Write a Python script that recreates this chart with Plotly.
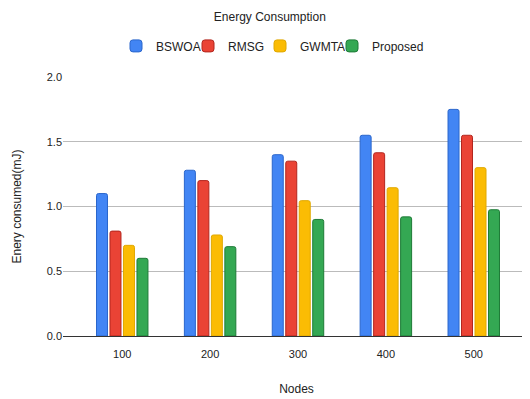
import plotly.graph_objects as go

categories = ["100", "200", "300", "400", "500"]
bswoa = [1.10, 1.28, 1.40, 1.55, 1.75]
rmsg = [0.81, 1.20, 1.35, 1.415, 1.55]
gwmta = [0.70, 0.78, 1.045, 1.145, 1.30]
proposed = [0.60, 0.69, 0.90, 0.92, 0.975]

series = [
    ("BSWOA", bswoa, "#4285F4", "#2A66CC"),
    ("RMSG", rmsg, "#EA4335", "#B3261E"),
    ("GWMTA", gwmta, "#FBBC04", "#E0A800"),
    ("Proposed", proposed, "#34A853", "#1E7B37"),
]

fig = go.Figure()
for name, vals, col, edge in series:
    fig.add_trace(go.Bar(
        name=name, x=categories, y=vals,
        marker=dict(color=col, line=dict(color=edge, width=1)),
    ))
# spacer legend entry so the last real label is not clipped
fig.add_trace(go.Scatter(x=[None], y=[None], name=" ", mode="markers",
                         marker=dict(color="rgba(0,0,0,0)"), hoverinfo="skip"))

font = "Liberation Sans, Arial, sans-serif"
fig.update_layout(
    width=530, height=399,
    margin=dict(l=55, r=8, t=69, b=71, autoexpand=False),
    paper_bgcolor="white", plot_bgcolor="white",
    barmode="group", bargap=0.386, bargroupgap=0.185,
    barcornerradius=2,
    font=dict(family=font, size=11, color="#222"),
    title=dict(text="Energy Consumption", x=0.494, xref="container",
               y=0.977, yref="container", xanchor="center", yanchor="middle",
               font=dict(size=12, color="#222")),
    legend=dict(orientation="h", xref="container", x=0.2038, xanchor="left",
                yref="container", y=0.905, yanchor="middle",
                font=dict(size=12, color="#222"), itemwidth=30,
                entrywidth=27, entrywidthmode="pixels",
                traceorder="normal"),
    showlegend=True,
)
fig.update_xaxes(
    type="category", range=[-0.674, 4.64], automargin=False,
    showgrid=False, ticks="outside", ticklen=8, tickcolor="rgba(0,0,0,0)",
    showline=False,
    tickfont=dict(size=11, color="#222"),
    title=dict(text="Nodes", font=dict(size=12, color="#222"), standoff=25),
)
fig.update_yaxes(
    range=[0, 2.0], dtick=0.5, tickformat=".1f", automargin=False,
    showgrid=True, gridcolor="#BBBBBB", gridwidth=1,
    zeroline=True, zerolinecolor="#333333", zerolinewidth=1,
    tickfont=dict(size=11, color="#222"), ticks="",
    title=dict(text="Enery consumed(mJ)", font=dict(size=12, color="#222"), standoff=22),
)
fig.write_html("out.html")
